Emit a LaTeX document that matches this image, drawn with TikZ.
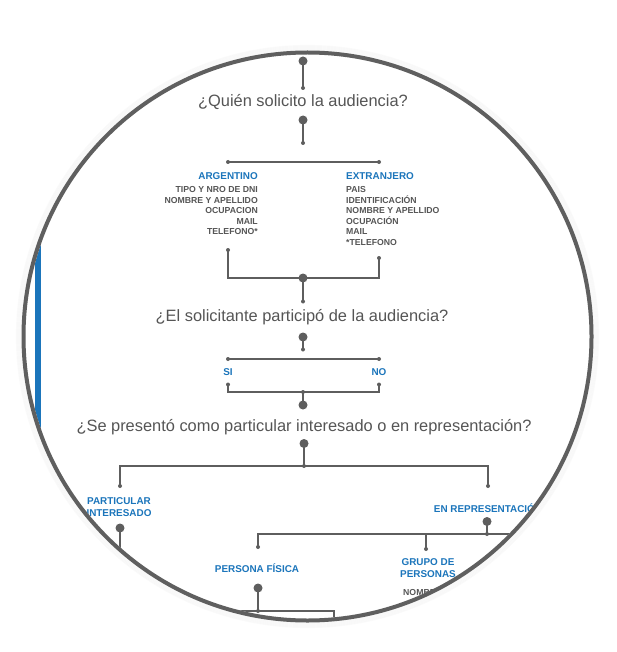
\documentclass[tikz,border=0pt]{standalone}
\usepackage{fontspec}
\setmainfont{Liberation Sans}
\definecolor{txt}{HTML}{555555}
\definecolor{ln}{HTML}{5E5E5E}
\definecolor{blu}{HTML}{1B75BB}
\definecolor{ring}{HTML}{5F5F5F}
\begin{document}
\begin{tikzpicture}[x=1pt,y=-1pt,
  bigdot/.style={circle,fill=ln,inner sep=0pt,minimum size=9pt},
  smalldot/.style={circle,fill=ln,inner sep=0pt,minimum size=4pt},
  quest/.style={text=txt,inner sep=0pt,font=\fontsize{16.4}{18}\selectfont},
  lab/.style={text=blu,inner sep=0pt,font=\fontsize{9.9}{12.5}\selectfont\bfseries},
  items/.style={text=txt,inner sep=0pt,font=\fontsize{8.7}{10.5}\selectfont\bfseries},
  conn/.style={draw=ln,line width=1.2pt}]
\useasboundingbox (0,0) rectangle (617,652);
\fill[white] (0,0) rectangle (617,652);
% shadow
\foreach \k in {1,...,6}{
  \draw[black,opacity=0.02,line width=1.2pt] (307.5,336.5) circle ({285+\k*1.0});
}
\begin{scope}
\clip (307.5,336.5) circle (282);
\fill[blu] (35,0) rectangle (41,652);
% dots
\node[bigdot] (d0) at (303,61) {};
\node[smalldot] (s1) at (303,88) {};
\node[quest] (q1) at (303,102) {¿Quién solicito la audiencia?};
\node[bigdot] (d1) at (303,120) {};
\node[smalldot] (s2) at (303,143) {};
\node[smalldot] (s3) at (228,162) {};
\node[smalldot] (s4) at (379,162) {};
\node[lab,anchor=east] (arg) at (258,176) {ARGENTINO};
\node[lab,anchor=west] (ext) at (346,176) {EXTRANJERO};
\node[items,anchor=north east,align=right] (argl) at (258,186.5) {TIPO Y NRO DE DNI\\NOMBRE Y APELLIDO\\OCUPACION\\MAIL\\TELEFONO*};
\node[items,anchor=north west,align=left] (extl) at (346,186.5) {PAIS\\IDENTIFICACIÓN\\NOMBRE Y APELLIDO\\OCUPACIÓN\\MAIL\\*TELEFONO};
\node[smalldot] (s5) at (228,250) {};
\node[smalldot] (s6) at (379,258) {};
\node[bigdot] (d2) at (303,278) {};
\node[smalldot] (s7) at (303,301.5) {};
\node[quest] (q2) at (302,317) {¿El solicitante participó de la audiencia?};
\node[bigdot] (d3) at (303,337) {};
\node[smalldot] (s8) at (303,349.5) {};
\node[smalldot] (s9) at (228,359) {};
\node[smalldot] (s10) at (379,359) {};
\node[lab] (si) at (228,372) {SI};
\node[lab] (no) at (379,372) {NO};
\node[smalldot] (s11) at (228,384.5) {};
\node[smalldot] (s12) at (379,384.5) {};
\node[smalldot] (s13) at (303,392) {};
\node[bigdot] (d4) at (303,405) {};
\node[quest] (q3) at (304,427) {¿Se presentó como particular interesado o en representación?};
\node[bigdot] (d5) at (304,443.5) {};
\node[smalldot] (s14) at (304,466) {};
\node[smalldot] (s15) at (120,486) {};
\node[smalldot] (s16) at (488,486) {};
\node[lab,align=center] (part) at (119,507) {PARTICULAR\\INTERESADO};
\node[lab] (rep) at (488,508) {EN REPRESENTACIÓN};
\node[bigdot] (d6) at (120,528) {};
\coordinate (e6) at (120,660);
\node[bigdot] (d7) at (487,521.5) {};
\node[smalldot] (s17) at (487,534) {};
\coordinate (c18) at (258,534);
\coordinate (e17) at (640,534);
\node[smalldot] (s19) at (258,547) {};
\coordinate (c20) at (426,534);
\node[smalldot] (s20) at (426,549) {};
\node[lab] (pf) at (257,568) {PERSONA FÍSICA};
\node[lab,align=center] (gp) at (428,568) {GRUPO DE\\PERSONAS};
\node[items,anchor=west] (nom) at (403,592) {NOMBRE};
\node[bigdot] (d8) at (258,588) {};
\node[smalldot] (s21) at (258,611) {};
\coordinate (c22) at (180,611);
\coordinate (c23) at (334,611);
\coordinate (e23) at (334,660);
% connectors
\draw[conn] (d0.center) -- (s1.center);
\draw[conn] (d1.center) -- (s2.center);
\draw[conn] (s3.center) |- (s4.center);
\draw[conn] (s5.center) |- (d2.center) -| (s6.center);
\draw[conn] (d2.center) -- (s7.center);
\draw[conn] (d3.center) -- (s8.center);
\draw[conn] (s9.center) |- (s10.center);
\draw[conn] (s11.center) |- (s13.center) -| (s12.center);
\draw[conn] (s13.center) -- (d4.center);
\draw[conn] (d5.center) -- (s14.center);
\draw[conn] (s15.center) |- (s14.center) -| (s16.center);
\draw[conn] (d6.center) -- (e6);
\draw[conn] (d7.center) -- (s17.center);
\draw[conn] (s19.center) -- (c18) -- (e17);
\draw[conn] (c20) -- (s20.center);
\draw[conn] (d8.center) -- (s21.center);
\draw[conn] (c22) -- (c23) -- (e23);
\end{scope}
\draw[ring,line width=4pt] (307.5,336.5) circle (284);
\end{tikzpicture}
\end{document}
